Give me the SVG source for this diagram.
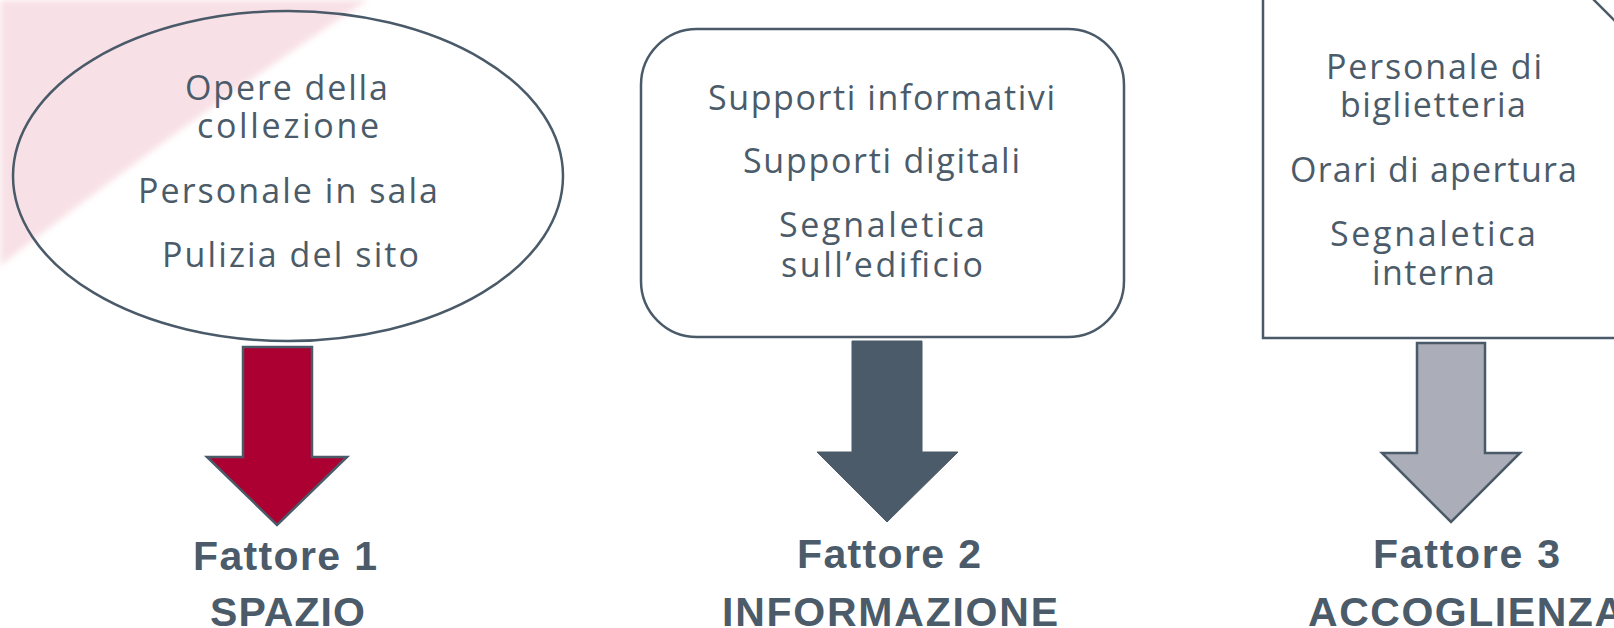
<svg xmlns="http://www.w3.org/2000/svg" width="1614" height="628" viewBox="0 0 1614 628">
  <defs>
    <filter id="soft" x="-10%" y="-10%" width="120%" height="120%">
      <feGaussianBlur stdDeviation="3"/>
    </filter>
    <style>
      .shape { fill: none; stroke: #4a5a68; stroke-width: 2.5; }
      .item { font-family: "Open Sans", "Noto Sans", "Liberation Sans", sans-serif; font-size: 34px; fill: #4b5b69; }
      .label { font-family: "Liberation Sans", Arial, sans-serif; font-size: 41px; font-weight: bold; fill: #4b5b69; }
      .arrow { stroke: #4a5a68; stroke-width: 2.5; stroke-linejoin: miter; }
    </style>
  </defs>
  <rect width="1614" height="628" fill="#ffffff"/>
  <path d="M0,0 H368 Q190,118 0,266 Z" fill="#f8e1e6" filter="url(#soft)"/>

  <g id="node-spazio">
    <ellipse class="shape" cx="288" cy="176" rx="275" ry="165"/>
    <text class="item" x="185" y="100" textLength="203" lengthAdjust="spacing">Opere della</text>
    <text class="item" x="197" y="138" textLength="182" lengthAdjust="spacing">collezione</text>
    <text class="item" x="138" y="203" textLength="300" lengthAdjust="spacing">Personale in sala</text>
    <text class="item" x="162" y="267" textLength="257" lengthAdjust="spacing">Pulizia del sito</text>
  </g>

  <g id="node-informazione">
    <rect class="shape" x="641" y="29" width="483" height="308" rx="56" ry="56"/>
    <text class="item" x="708" y="110" textLength="347" lengthAdjust="spacing">Supporti informativi</text>
    <text class="item" x="743" y="173" textLength="277" lengthAdjust="spacing">Supporti digitali</text>
    <text class="item" x="779" y="237" textLength="206" lengthAdjust="spacing">Segnaletica</text>
    <text class="item" x="781" y="277" textLength="202" lengthAdjust="spacing">sull’edificio</text>
  </g>

  <g id="node-accoglienza">
    <path class="shape" d="M1263,-5 V338 H1620"/>
    <path class="shape" d="M1592,-2 L1618,24"/>
    <text class="item" x="1326" y="79" textLength="216" lengthAdjust="spacing">Personale di</text>
    <text class="item" x="1340" y="117" textLength="186" lengthAdjust="spacing">biglietteria</text>
    <text class="item" x="1290" y="182" textLength="287" lengthAdjust="spacing">Orari di apertura</text>
    <text class="item" x="1330" y="246" textLength="206" lengthAdjust="spacing">Segnaletica</text>
    <text class="item" x="1372" y="285" textLength="123" lengthAdjust="spacing">interna</text>
  </g>

  <g id="label-fattore1">
    <text class="label" x="193" y="570" textLength="184" lengthAdjust="spacing">Fattore 1</text>
    <text class="label" x="210" y="626" textLength="155" lengthAdjust="spacing">SPAZIO</text>
  </g>
  <g id="label-fattore2">
    <text class="label" x="797" y="568" textLength="184" lengthAdjust="spacing">Fattore 2</text>
    <text class="label" x="722" y="626" textLength="336" lengthAdjust="spacing">INFORMAZIONE</text>
  </g>
  <g id="label-fattore3">
    <text class="label" x="1373" y="568" textLength="187" lengthAdjust="spacing">Fattore 3</text>
    <text class="label" x="1308" y="626" textLength="316" lengthAdjust="spacing">ACCOGLIENZA</text>
  </g>

  <g id="connectors">
    <polygon class="arrow" fill="#ab0031" points="243,347 312,347 312,457 347,457 277,525 207,457 243,457"/>
    <polygon fill="#4b5b69" stroke="#4b5b69" stroke-width="1" points="852,341 922,341 922,452 958,452 887,522 817,452 852,452"/>
    <polygon class="arrow" fill="#abadb8" points="1417,343 1485,343 1485,453 1520,453 1451,522 1382,453 1417,453"/>
  </g>
</svg>
